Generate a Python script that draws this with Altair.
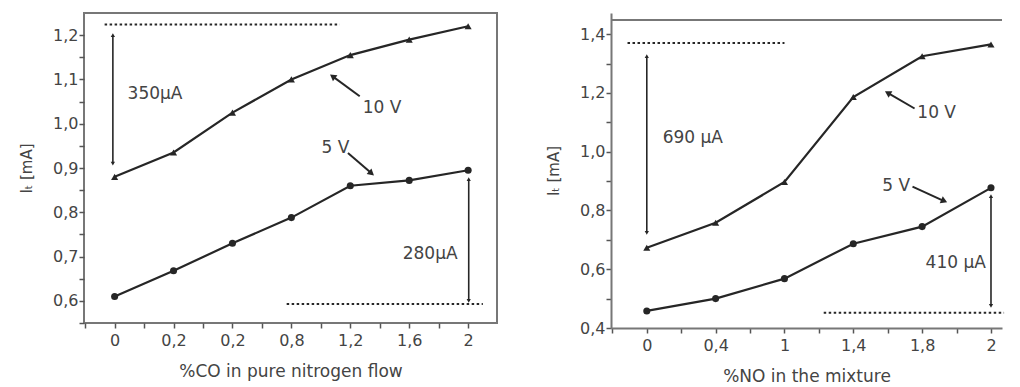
import altair as alt
import pandas as pd

# ---------------- data ----------------
left_labels = ["0", "0,2", "0,2", "0,8", "1,2", "1,6", "2"]
left_10v = [0.88, 0.935, 1.025, 1.10, 1.155, 1.19, 1.22]
left_5v = [0.61, 0.668, 0.73, 0.788, 0.86, 0.872, 0.895]

right_labels = ["0", "0,4", "1", "1,4", "1,8", "2"]
right_10v = [0.673, 0.758, 0.897, 1.186, 1.325, 1.365]
right_5v = [0.458, 0.50, 0.568, 0.687, 0.745, 0.877]

# dotted reference lines: x1, x2, y
left_dash_x1 = [-0.17, 2.92]
left_dash_x2 = [3.82, 6.25]
left_dash_y = [1.224, 0.593]
right_dash_x1 = [-0.28, 2.57]
right_dash_x2 = [2.0, 5.19]
right_dash_y = [1.37, 0.452]

# vertical double arrows: x, y_top, y_bottom
left_varrow_x = [-0.03, 6.01]
left_varrow_top = [1.2, 0.875]
left_varrow_bot = [0.91, 0.60]
right_varrow_x = [0.0, 5.0]
right_varrow_top = [1.325, 0.849]
right_varrow_bot = [0.724, 0.475]

# text labels
left_text = ["350µA", "280µA", "10 V", "5 V"]
left_text_x = [0.22, 4.89, 4.21, 3.51]
left_text_y = [1.068, 0.706, 1.035, 0.945]
right_text = ["690 µA", "410 µA", "10 V", "5 V"]
right_text_x = [0.23, 4.05, 3.93, 3.42]
right_text_y = [1.047, 0.622, 1.132, 0.883]

# pointer arrows: tail x/y, head x/y, head angle
left_ptr_tx = [4.16, 3.96]
left_ptr_ty = [1.062, 0.934]
left_ptr_hx = [3.70, 4.36]
left_ptr_hy = [1.107, 0.888]
left_ptr_ang = [307, 130]
right_ptr_tx = [3.89, 3.86]
right_ptr_ty = [1.147, 0.881]
right_ptr_hx = [3.50, 4.32]
right_ptr_hy = [1.200, 0.832]
right_ptr_ang = [300, 114]

INK = "#262626"
TXT = "#444444"
FONT = "DejaVu Sans"
YTITLE = "Iₜ  [mA]"


def panel(labels, v10, v5, xdom, ydom, ystep, ymajor, dash, varrow, texts, ptr,
          xtitle, width, height, framed, frame_top=0):
    n = len(labels)
    idx = list(range(n))
    df = pd.DataFrame({
        "i": idx * 2,
        "v": v10 + v5,
        "s": ["10 V"] * n + ["5 V"] * n,
    })
    label_js = "[" + ",".join("'" + l + "'" for l in labels) + "]"
    xvals = [k * 0.5 for k in range(-2, 2 * n + 2) if xdom[0] <= k * 0.5 <= xdom[1]]
    nsteps = int(round((ydom[1] - ydom[0]) / ystep)) + 2
    yvals = [round(ydom[0] + k * ystep, 3) for k in range(nsteps)]
    inv = int(round(1 / ymajor))
    # keep ticks inside the domain; drop an unlabeled tick sitting on the top edge
    yvals = [v for v in yvals if ydom[0] - 1e-9 <= v < ydom[1] - 1e-6]

    xscale = alt.Scale(domain=xdom, nice=False, zero=False)
    yscale = alt.Scale(domain=ydom, nice=False, zero=False)
    xaxis = alt.Axis(
        values=xvals,
        labelExpr=f"(datum.value % 1 == 0) ? {label_js}[datum.value] : ''",
        title=xtitle, grid=False, domain=not framed, labelOverlap=False,
    )
    yaxis = alt.Axis(
        values=yvals,
        labelExpr=(f"(abs(datum.value*{inv} - round(datum.value*{inv})) < 0.01) ? "
                   "replace(format(datum.value, '.1f'), '.', ',') : ''"),
        title=YTITLE, grid=False, domain=not framed, labelOverlap=False,
    )

    def X(f):
        return alt.X(f, axis=xaxis, scale=xscale, title=xtitle)

    def Y(f):
        return alt.Y(f, axis=yaxis, scale=yscale, title=YTITLE)

    base = alt.Chart(df)
    line = base.mark_line(color=INK, strokeWidth=2.2).encode(
        x=X("i:Q"), y=Y("v:Q"), detail="s:N",
    )
    pts = base.mark_point(filled=True, color=INK, opacity=1).encode(
        x=X("i:Q"), y=Y("v:Q"),
        shape=alt.Shape("s:N", scale=alt.Scale(domain=["10 V", "5 V"],
                                               range=["triangle-up", "circle"]),
                        legend=None),
        size=alt.Size("s:N", scale=alt.Scale(domain=["10 V", "5 V"], range=[50, 50]),
                      legend=None),
    )

    ddf = pd.DataFrame({"x1": dash[0], "x2": dash[1], "y": dash[2]})
    dashes = alt.Chart(ddf).mark_rule(color=INK, strokeWidth=2, strokeDash=[2.5, 2.5]).encode(
        x=X("x1:Q"), x2="x2:Q", y=Y("y:Q"))

    vdf = pd.DataFrame({"x": varrow[0], "yt": varrow[1], "yb": varrow[2]})
    vrule = alt.Chart(vdf).mark_rule(color=INK, strokeWidth=1.6).encode(
        x=X("x:Q"), y=Y("yt:Q"), y2="yb:Q")
    vtop = alt.Chart(vdf).mark_point(shape="triangle-up", filled=True, color=INK,
                                     size=18, opacity=1).encode(x=X("x:Q"), y=Y("yt:Q"))
    vbot = alt.Chart(vdf).mark_point(shape="triangle-down", filled=True, color=INK,
                                     size=18, opacity=1).encode(x=X("x:Q"), y=Y("yb:Q"))

    tdf = pd.DataFrame({"t": texts[0], "x": texts[1], "y": texts[2]})
    txt = alt.Chart(tdf).mark_text(align="left", baseline="middle", font=FONT,
                                   fontSize=17, color=TXT).encode(
        x=X("x:Q"), y=Y("y:Q"), text="t:N")

    pdf = pd.DataFrame({"tx": ptr[0], "ty": ptr[1], "hx": ptr[2], "hy": ptr[3], "a": ptr[4]})
    prule = alt.Chart(pdf).mark_rule(color=INK, strokeWidth=2).encode(
        x=X("tx:Q"), y=Y("ty:Q"), x2="hx:Q", y2="hy:Q")
    phead = alt.Chart(pdf).mark_point(shape="triangle-up", filled=True, color=INK,
                                      size=55, opacity=1).encode(
        x=X("hx:Q"), y=Y("hy:Q"), angle=alt.Angle("a:Q", scale=None))

    layers = [line, pts, dashes, vrule, vtop, vbot, txt, prule, phead]
    if not framed:
        top = alt.Chart(pd.DataFrame({"k": [0]})).mark_rule(color="#777", strokeWidth=2).encode(
            x=alt.value(0), x2=alt.value(width), y=alt.value(frame_top))
        layers.append(top)
    ch = alt.layer(*layers).properties(width=width, height=height)
    if framed:
        ch = ch.properties(view=alt.ViewBackground(stroke="#777", strokeWidth=2))
    else:
        ch = ch.properties(view=alt.ViewBackground(stroke="transparent"))
    return ch


left = panel(left_labels, left_10v, left_5v, [-0.52, 6.49], [0.55, 1.25], 0.05, 0.1,
             (left_dash_x1, left_dash_x2, left_dash_y),
             (left_varrow_x, left_varrow_top, left_varrow_bot),
             (left_text, left_text_x, left_text_y),
             (left_ptr_tx, left_ptr_ty, left_ptr_hx, left_ptr_hy, left_ptr_ang),
             "%CO in pure nitrogen flow", 413, 310, True)

right = panel(right_labels, right_10v, right_5v, [-0.52, 5.16], [0.4, 1.472], 0.1, 0.2,
              (right_dash_x1, right_dash_x2, right_dash_y),
              (right_varrow_x, right_varrow_top, right_varrow_bot),
              (right_text, right_text_x, right_text_y),
              (right_ptr_tx, right_ptr_ty, right_ptr_hx, right_ptr_hy, right_ptr_ang),
              "%NO in the mixture", 391, 315, False, frame_top=7)

chart = alt.hconcat(left, right, spacing=47).properties(
    padding={"left": 10, "top": 4, "right": 0, "bottom": 0}
).configure_axis(
    labelFont=FONT, titleFont=FONT, labelFontSize=16, titleFontSize=17,
    labelColor=TXT, titleColor=TXT, titleFontWeight="normal",
    tickColor="#555", tickWidth=1.5, tickSize=5,
    domainColor="#777", domainWidth=2,
).configure_axisY(labelPadding=1, titlePadding=18, titleFontSize=15
).configure_axisX(labelPadding=4, titlePadding=15
).configure_view(stroke="#777", strokeWidth=2)

chart.save("out.html", embed_options={"renderer": "svg", "actions": False})
